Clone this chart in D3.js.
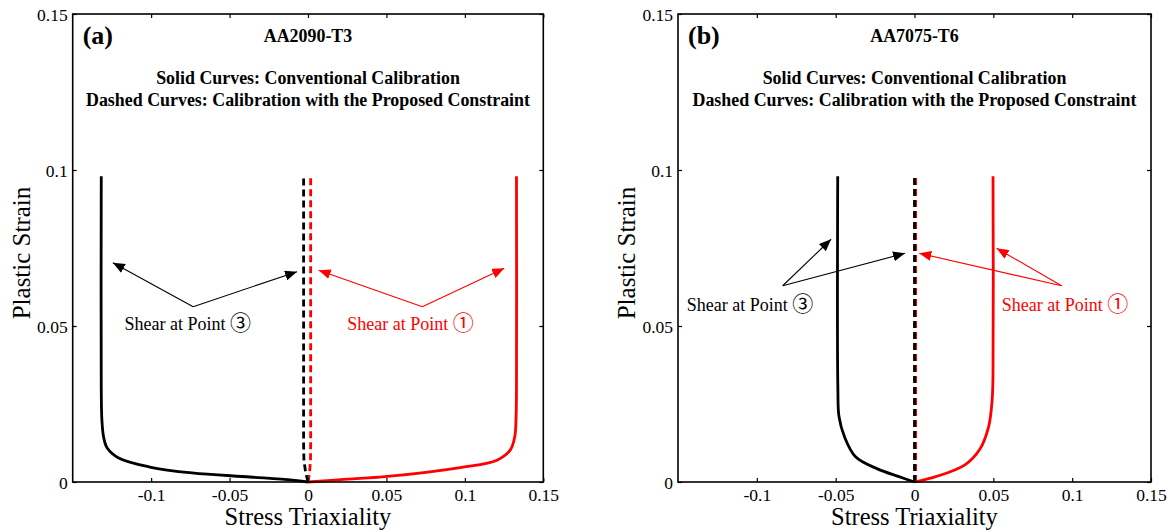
<!DOCTYPE html>
<html><head><meta charset="utf-8">
<script src="https://cdn.jsdelivr.net/npm/d3@7"></script>
<style>body{margin:0;background:#fff}svg{display:block}text{font-family:"Liberation Serif","Times New Roman",serif}</style>
</head><body>
<script>
// ---- data ----
const xTicks = [-0.1, -0.05, 0, 0.05, 0.1, 0.15];
const yTicks = [0, 0.05, 0.1, 0.15];
const xTickLabels = ["-0.1", "-0.05", "0", "0.05", "0.1", "0.15"];
const yTickLabels = ["0", "0.05", "0.1", "0.15"];

// Panel (a) AA2090-T3
const aSolidBlackX = [0, -0.01, -0.037, -0.074, -0.1009, -0.1207, -0.128, -0.1303, -0.1314, -0.1318, -0.1318];
const aSolidBlackY = [0, 0.0006, 0.0016, 0.0029, 0.0048, 0.0077, 0.0109, 0.0144, 0.02, 0.03, 0.098];
const aSolidRedX = [0, 0.025, 0.049, 0.098, 0.1205, 0.129, 0.1318, 0.1326, 0.1329, 0.1329];
const aSolidRedY = [0, 0.0009, 0.0017, 0.0047, 0.007, 0.0103, 0.0145, 0.02, 0.03, 0.098];
const aDashBlackX = [0, -0.0015, -0.0026, -0.0028, -0.0028];
const aDashBlackY = [0, 0.003, 0.007, 0.012, 0.098];
const aDashRedX = [0, 0.001, 0.0016, 0.0017, 0.0017];
const aDashRedY = [0, 0.003, 0.007, 0.012, 0.098];

// Panel (b) AA7075-T6
const bSolidBlackX = [0, -0.0098, -0.0235, -0.0374, -0.0444, -0.0479, -0.0486, -0.0487];
const bSolidBlackY = [0, 0.0017, 0.0042, 0.0081, 0.0145, 0.021, 0.03, 0.098];
const bSolidRedX = [0, 0.0135, 0.032, 0.0413, 0.047, 0.0492, 0.0498, 0.0498];
const bSolidRedY = [0, 0.0017, 0.0055, 0.0104, 0.0177, 0.026, 0.035, 0.098];
const bDashBlackX = [0, 0];
const bDashBlackY = [0, 0.098];
const bDashRedX = [0.0007, 0.0007];
const bDashRedY = [0, 0.098];

// annotations (data units): vertex, heads, text anchor
const aAnnBlack = {vertex: [-0.0732, 0.0562], heads: [[-0.1244, 0.0703], [-0.0070, 0.0674]], text: [-0.117, 0.0487]};
const aAnnRed = {vertex: [0.0729, 0.0562], heads: [[0.0068, 0.0679], [0.1251, 0.0685]], text: [0.0251, 0.0487]};
const bAnnBlack = {vertex: [-0.0836, 0.0629], heads: [[-0.0529, 0.0778], [-0.0060, 0.0733]], text: [-0.1445, 0.0549]};
const bAnnRed = {vertex: [0.0933, 0.0629], heads: [[0.0030, 0.0733], [0.0521, 0.0749]], text: [0.0553, 0.0549]};

const titleLines = ["Solid Curves: Conventional Calibration", "Dashed Curves: Calibration with the Proposed Constraint"];

// ---- drawing ----
const W = 1169, H = 532;
const svg = d3.select("body").append("svg").attr("width", W).attr("height", H);
const defs = svg.append("defs");
[["ahBlack", "#000"], ["ahRed", "#ff0000"]].forEach(([id, c]) => {
  defs.append("marker").attr("id", id).attr("viewBox", "0 0 12 10").attr("refX", 12).attr("refY", 5)
    .attr("markerWidth", 12).attr("markerHeight", 10).attr("markerUnits", "userSpaceOnUse").attr("orient", "auto")
    .append("path").attr("d", "M0,0 L12,5 L0,10 Z").attr("fill", c);
});

const zip = (xs, ys) => xs.map((x, i) => [x, ys[i]]);

function panel(p) {
  const x = d3.scaleLinear().domain([-0.15, 0.15]).range([p.left, p.right]);
  const y = d3.scaleLinear().domain([0, 0.15]).range([482, 14]);
  const g = svg.append("g");

  // curves
  const smooth = d3.line().x(d => x(d[0])).y(d => y(d[1])).curve(d3.curveCatmullRom.alpha(0.5));
  const straight = d3.line().x(d => x(d[0])).y(d => y(d[1]));
  const series = [
    {d: p.dashRed, c: "#ff0000", dash: "7,4", l: straight},
    {d: p.dashBlack, c: "#000", dash: "7,4", l: straight},
    {d: p.solidBlack, c: "#000", dash: null, l: smooth},
    {d: p.solidRed, c: "#ff0000", dash: null, l: smooth}
  ];
  series.forEach(s => {
    g.append("path").attr("d", s.l(s.d)).attr("fill", "none").attr("stroke", s.c)
      .attr("stroke-width", 2.8).attr("stroke-dasharray", s.dash);
  });

  // frame
  g.append("rect").attr("x", p.left).attr("y", y(0.15)).attr("width", p.right - p.left).attr("height", y(0) - y(0.15))
    .attr("fill", "none").attr("stroke", "#000").attr("stroke-width", 1.6);

  // axes with inward ticks
  const xb = g.append("g").attr("transform", `translate(0,${y(0)})`)
    .call(d3.axisBottom(x).tickValues(xTicks).tickSizeInner(-4).tickSizeOuter(0).tickFormat((d, i) => xTickLabels[i]));
  const xt = g.append("g").attr("transform", `translate(0,${y(0.15)})`)
    .call(d3.axisTop(x).tickValues(xTicks).tickSizeInner(-4).tickSizeOuter(0).tickFormat(""));
  const yl = g.append("g").attr("transform", `translate(${p.left},0)`)
    .call(d3.axisLeft(y).tickValues(yTicks).tickSizeInner(-4).tickSizeOuter(0).tickFormat((d, i) => yTickLabels[i]));
  const yr = g.append("g").attr("transform", `translate(${p.right},0)`)
    .call(d3.axisRight(y).tickValues(yTicks).tickSizeInner(-4).tickSizeOuter(0).tickFormat(""));
  [xb, xt, yl, yr].forEach(a => {
    a.attr("font-family", null);
    a.select(".domain").remove();
    a.selectAll(".tick line").attr("stroke", "#000").attr("stroke-width", 1.2);
    a.selectAll("text").attr("font-family", "Liberation Serif, serif").attr("font-size", 17.5).attr("fill", "#000");
  });
  xb.selectAll("text").attr("dy", null).attr("y", 19);
  yl.selectAll("text").attr("x", -5).attr("dy", "0.35em");

  // axis titles
  g.append("text").attr("x", (p.left + p.right) / 2).attr("y", 525).attr("text-anchor", "middle")
    .attr("font-size", 24.5).text("Stress Triaxiality");
  g.append("text").attr("transform", `translate(${p.left - 43},${y(0.075) + 5}) rotate(-90)`).attr("text-anchor", "middle")
    .attr("font-size", 25).text("Plastic Strain");

  // panel labels / titles
  g.append("text").attr("x", p.left + 10).attr("y", 44).attr("font-size", 26).attr("font-weight", "bold").text(p.tag);
  g.append("text").attr("x", x(0)).attr("y", 42).attr("text-anchor", "middle").attr("font-size", 17.9)
    .attr("font-weight", "bold").text(p.title);
  titleLines.forEach((t, i) => {
    g.append("text").attr("x", x(0)).attr("y", 84 + i * 22).attr("text-anchor", "middle").attr("font-size", 17.9)
      .attr("font-weight", "bold").text(t);
  });

  // annotations
  [[p.annBlack, "#000", "ahBlack", "③"], [p.annRed, "#ff0000", "ahRed", "①"]].forEach(([a, c, m, sym]) => {
    a.heads.forEach(h => {
      g.append("line").attr("x1", x(a.vertex[0])).attr("y1", y(a.vertex[1])).attr("x2", x(h[0])).attr("y2", y(h[1]))
        .attr("stroke", c).attr("stroke-width", 1.1).attr("marker-end", `url(#${m})`);
    });
    const t = g.append("text").attr("x", x(a.text[0])).attr("y", y(a.text[1])).attr("font-size", 18).attr("fill", c);
    t.append("tspan").text("Shear at Point ");
    t.append("tspan").attr("font-family", "Noto Sans CJK JP, sans-serif").attr("font-size", 21).text(sym);
  });
}

panel({left: 72.7, right: 543.3, tag: "(a)", title: "AA2090-T3",
  solidBlack: zip(aSolidBlackX, aSolidBlackY), solidRed: zip(aSolidRedX, aSolidRedY),
  dashBlack: zip(aDashBlackX, aDashBlackY), dashRed: zip(aDashRedX, aDashRedY),
  annBlack: aAnnBlack, annRed: aAnnRed});
panel({left: 678, right: 1151, tag: "(b)", title: "AA7075-T6",
  solidBlack: zip(bSolidBlackX, bSolidBlackY), solidRed: zip(bSolidRedX, bSolidRedY),
  dashBlack: zip(bDashBlackX, bDashBlackY), dashRed: zip(bDashRedX, bDashRedY),
  annBlack: bAnnBlack, annRed: bAnnRed});
</script>
</body></html>
